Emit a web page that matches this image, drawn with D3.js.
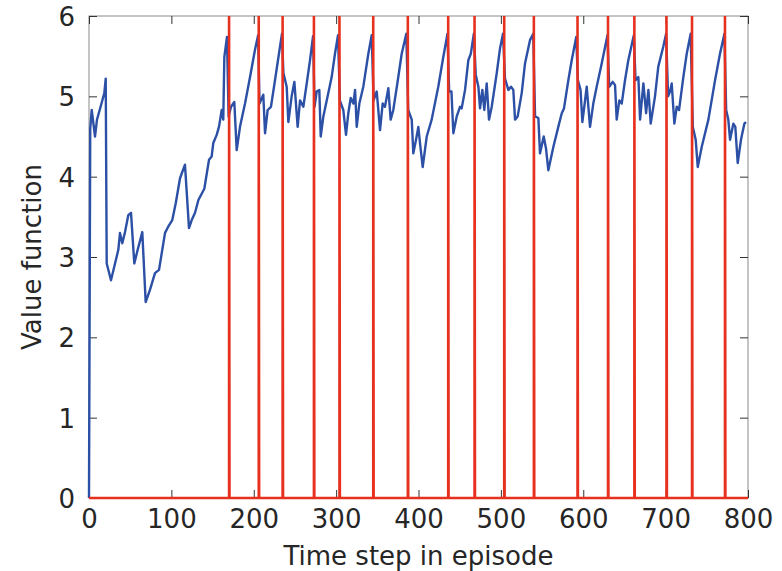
<!DOCTYPE html>
<html>
<head>
<meta charset="utf-8">
<script src="https://cdn.jsdelivr.net/npm/d3@7"></script>
<style>
    body { margin: 0; background: #fff; }
    text { font-family: "DejaVu Sans", Verdana, sans-serif; fill: #262626; }
</style>
</head>
<body>
<div id="chart"></div>
<script>
// blue series: time step and value function
const steps = [0, 1.5, 3.3, 7.3, 9.7, 15.4, 18.6, 20.3, 21.5, 26.7, 31.6, 35.6, 37.6, 40.4, 43.7, 47.7, 51, 55, 59.1, 64.7,
    68.8, 74, 80.1, 85, 92.3, 96.3, 101.1, 105.3, 110.5, 116.5, 121.4, 124.7, 128.7, 132.8, 140, 145.7, 148.9, 150.9, 155, 157.8,
    161.1, 163, 164.3, 167.5, 169.5, 172.4, 176.4, 179.3, 183.3, 189.4, 195.5, 201.5, 205.3, 207, 211.6, 213.7, 216.9, 220.9, 225.8, 231.9,
    234.3, 236, 240, 242, 246, 249.3, 253.3, 256.2, 260.2, 264.3, 268.3, 272, 273.8, 276.4, 279.6, 281.3, 284.5, 290.5, 294.6, 298.6,
    302.3, 304.5, 308.7, 312, 314.8, 317.7, 320.9, 323, 325, 328.2, 333, 339.1, 343.2, 345.5, 349.3, 353.3, 356.5, 359.3, 363.4, 366.2,
    369.4, 374.3, 379.6, 385.2, 387.5, 391.8, 393.7, 397, 399.8, 401.8, 405.1, 410, 416, 424, 430.1, 435.2, 437.2, 440, 442.3, 446.4,
    450.4, 452.4, 456.5, 460.5, 463.5, 467.2, 469.5, 472.7, 474.7, 477.5, 479.9, 482.8, 485.6, 488.9, 495, 499, 502.6, 505, 509.1, 512.3,
    515.1, 517.2, 520.4, 525.3, 529.3, 535.4, 539.3, 541.5, 545.5, 547.5, 552, 554.8, 557.6, 563.7, 569.7, 573.9, 576.6, 581.9, 586, 591.5,
    593.5, 596.7, 598.9, 602.2, 604.2, 608.2, 612.2, 616.3, 622.4, 629.4, 631.5, 635.8, 638.6, 640.6, 643.8, 646.7, 650.7, 654.7, 661.4, 663.5,
    666.9, 669, 673, 676.3, 679.1, 681.9, 687.1, 691.1, 697.2, 700.6, 703, 705.3, 707.4, 710.6, 713.5, 716.3, 721.5, 725.6, 730.4, 733,
    736.5, 739, 743.8, 751.9, 760, 766, 771.4, 773.5, 776.1, 778.2, 782.2, 784.6, 787.5, 791.5, 793.1, 795.6, 797.5]
const values = [0, 4.6, 4.83, 4.5, 4.71, 4.92, 5.04, 5.22, 2.92, 2.71, 2.92, 3.09, 3.3, 3.17, 3.31, 3.52, 3.55, 2.92, 3.09, 3.31,
    2.44, 2.59, 2.8, 2.84, 3.3, 3.38, 3.46, 3.67, 3.98, 4.15, 3.36, 3.46, 3.55, 3.71, 3.85, 4.21, 4.25, 4.42, 4.52, 4.62,
    4.83, 4.71, 5.49, 5.74, 4.75, 4.87, 4.93, 4.33, 4.62, 4.91, 5.24, 5.58, 5.76, 4.91, 5.02, 4.54, 4.83, 4.87, 5.2, 5.62,
    5.78, 5.29, 5.12, 4.68, 5.0, 5.18, 4.62, 4.95, 4.87, 5.16, 5.45, 5.75, 4.87, 5.06, 5.08, 4.5, 4.75, 5.04, 5.24, 5.53,
    5.76, 4.95, 4.83, 4.52, 4.79, 4.98, 4.91, 5.08, 4.62, 4.91, 5.12, 5.53, 5.76, 4.95, 5.06, 4.58, 4.91, 4.87, 5.1, 4.71,
    4.83, 5.16, 5.53, 5.78, 4.83, 4.71, 4.29, 4.46, 4.62, 4.42, 4.12, 4.5, 4.71, 5.12, 5.49, 5.78, 5.06, 5.06, 4.54, 4.75,
    4.87, 4.85, 5.08, 5.45, 5.53, 5.78, 5.27, 5.12, 4.85, 5.08, 4.83, 5.16, 4.71, 4.87, 5.29, 5.6, 5.78, 5.22, 5.08, 5.12,
    5.08, 4.71, 4.75, 5.04, 5.41, 5.7, 5.78, 4.75, 4.73, 4.29, 4.5, 4.35, 4.08, 4.37, 4.62, 4.79, 4.85, 5.2, 5.45, 5.74,
    5.2, 5.08, 4.68, 4.95, 5.12, 4.62, 4.91, 5.12, 5.41, 5.76, 5.12, 5.18, 5.14, 4.71, 4.95, 4.91, 5.2, 5.45, 5.76, 5.2,
    5.24, 4.71, 5.16, 4.79, 5.08, 4.66, 5.0, 5.37, 5.62, 5.78, 5.0, 5.06, 5.16, 4.66, 4.87, 4.83, 5.24, 5.53, 5.78, 4.62,
    4.46, 4.12, 4.37, 4.71, 5.2, 5.53, 5.78, 4.83, 4.71, 4.46, 4.66, 4.62, 4.17, 4.46, 4.54, 4.66, 4.68]

// red series: episode ends (spike above the top of the plot)
const endSteps = [170, 206, 235, 273, 304, 345, 387, 436, 468, 504, 540, 593, 630, 662, 701, 732, 772]
const spikeValue = 7

const xTicks = [0, 100, 200, 300, 400, 500, 600, 700, 800]
const yTicks = [0, 1, 2, 3, 4, 5, 6]

function draw() {
    let dimensions = {
        width: 782,
        height: 571,
        margins: { top: 16, right: 34, bottom: 73, left: 89 },
        fontSize: "26px",
    };
    dimensions.ctrWidth = dimensions.width - dimensions.margins.left - dimensions.margins.right
    dimensions.ctrHeight = dimensions.height - dimensions.margins.top - dimensions.margins.bottom

    const svg = d3.select('#chart')
        .append("svg")
        .attr("width", dimensions.width)
        .attr("height", dimensions.height)

    const ctr = svg.append("g")
        .attr("transform", `translate(${dimensions.margins.left}, ${dimensions.margins.top})`)

    // scales
    const x = d3.scaleLinear().domain([0, 800]).range([0, dimensions.ctrWidth])
    const y = d3.scaleLinear().domain([0, 6]).range([dimensions.ctrHeight, 0])

    const blueData = steps.map((s, i) => ({ step: s, value: values[i] }))

    // red: zero line with a spike at each episode end
    const redData = [{ step: 0, value: 0 }]
    endSteps.forEach(e => {
        redData.push({ step: e, value: 0 })
        redData.push({ step: e, value: spikeValue })
        redData.push({ step: e + 0.6, value: 0 })
    })
    redData.push({ step: 800, value: 0 })

    // box
    ctr.append("rect")
        .attr("width", dimensions.ctrWidth)
        .attr("height", dimensions.ctrHeight)
        .attr("fill", "none")
        .attr("stroke", "#8a8a8a")
        .attr("stroke-width", 1)

    // ticks (inside) on all four sides
    const tickLen = 8
    const axisBottom = ctr.append("g")
        .attr("transform", `translate(0, ${dimensions.ctrHeight})`)
        .call(d3.axisBottom(x).tickValues(xTicks).tickSize(-tickLen).tickPadding(12))
    const axisTop = ctr.append("g")
        .call(d3.axisTop(x).tickValues(xTicks).tickSize(-tickLen).tickFormat(""))
    const axisLeft = ctr.append("g")
        .call(d3.axisLeft(y).tickValues(yTicks).tickSize(-tickLen).tickPadding(14).tickFormat(d3.format("d")))
    const axisRight = ctr.append("g")
        .attr("transform", `translate(${dimensions.ctrWidth}, 0)`)
        .call(d3.axisRight(y).tickValues(yTicks).tickSize(-tickLen).tickFormat(""))

    ;[axisBottom, axisTop, axisLeft, axisRight].forEach(a => {
        a.select(".domain").remove()
        a.selectAll(".tick line").attr("stroke", "#333").attr("stroke-width", 1)
        a.selectAll(".tick text")
            .style("font-family", '"DejaVu Sans", Verdana, sans-serif')
            .style("font-size", dimensions.fontSize)
            .attr("fill", "#262626")
    })
    axisBottom.selectAll(".tick text").attr("dy", "0.71em")
    axisLeft.selectAll(".tick text").attr("dy", "0.36em")

    // clip for the series
    ctr.append("defs").append("clipPath")
        .attr("id", "clip")
        .append("rect")
        .attr("x", -2)
        .attr("y", 0)
        .attr("width", dimensions.ctrWidth + 4)
        .attr("height", dimensions.ctrHeight + 2)

    const plot = ctr.append("g").attr("clip-path", "url(#clip)")

    const line = d3.line()
        .x(d => x(d.step))
        .y(d => y(d.value))

    plot.append("path")
        .datum(blueData)
        .attr("fill", "none")
        .attr("stroke", "#2c50a6")
        .attr("stroke-width", 2.4)
        .attr("stroke-linejoin", "round")
        .attr("d", line)

    plot.append("path")
        .datum(redData)
        .attr("fill", "none")
        .attr("stroke", "#e8301e")
        .attr("stroke-width", 2.5)
        .attr("d", line)

    // axis labels
    ctr.append("text")
        .attr("text-anchor", "middle")
        .attr("x", dimensions.ctrWidth / 2)
        .attr("y", dimensions.ctrHeight + 67)
        .style("font-size", dimensions.fontSize)
        .text("Time step in episode")

    ctr.append("text")
        .attr("text-anchor", "middle")
        .attr("transform", `translate(-48, ${dimensions.ctrHeight / 2}) rotate(-90)`)
        .style("font-size", dimensions.fontSize)
        .text("Value function")
}
draw()
</script>
</body>
</html>
